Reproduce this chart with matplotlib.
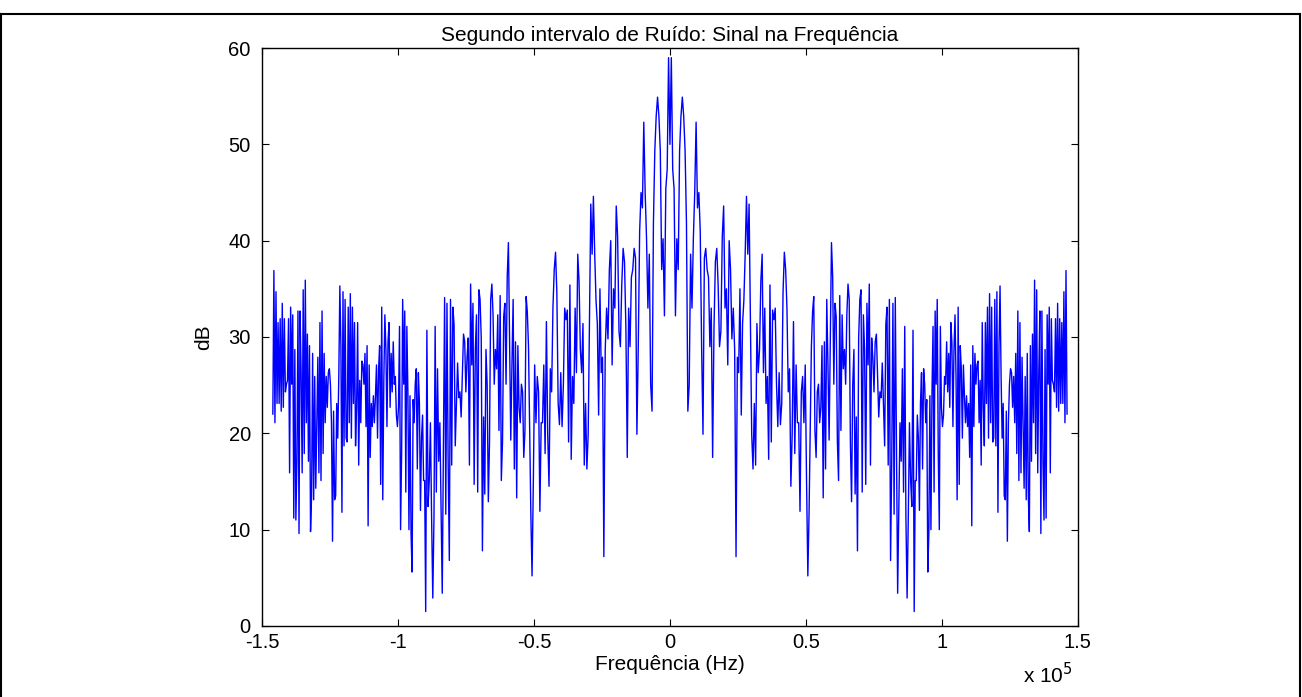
import numpy as np
import matplotlib
matplotlib.use("Agg")
import matplotlib.pyplot as plt
import matplotlib.ticker as mticker

plt.rcParams['font.family'] = ['Liberation Sans', 'DejaVu Sans']

# right half of the spectrum (dB); the spectrum is mirror symmetric.
# each piece runs up to one of the deep notches, whose frequencies are in seg_edges
seg_edges = [0, 0.243e5, 0.507e5, 0.898e5, 1.46e5]

db_seg1 = [  # 0 .. notch at 0.243e5
    50.0, 59.0, 47.4, 45.4, 32.2, 40.2, 37.0, 49.3, 52.9, 54.9,
    52.9, 49.3, 41.8, 22.3, 25.1, 38.6, 33.0, 40.2, 45.0, 52.3,
    43.4, 45.0, 41.0, 29.0, 19.9, 38.2, 39.2, 37.0, 36.2, 29.0,
    33.0, 17.5, 31.0, 37.8, 39.2, 35.4, 29.0, 30.6, 40.4, 43.6,
    33.0, 35.0, 27.1, 40.0, 37.0, 29.8, 33.0, 28.7, 7.2,
]
db_seg2 = [  # .. notch at 0.507e5
    27.9,
    26.3, 35.0, 21.9, 31.4, 33.8, 38.6, 44.6, 38.6, 43.8, 32.2,
    19.9, 16.3, 23.1, 16.7, 31.4, 26.3, 28.7, 35.8, 38.6, 26.3,
    33.0, 23.1, 25.9, 17.3, 35.4, 19.1, 32.8, 31.8, 33.0, 25.1,
    20.7, 26.3, 20.9, 23.1, 34.6, 38.8, 37.0, 33.0, 24.3, 26.7,
    14.5, 19.9, 31.6, 17.9, 27.1, 21.1, 21.1, 11.9, 24.3, 25.9,
    21.1, 27.1, 15.1, 5.2,
]
db_seg3 = [  # .. notch at 0.898e5
    11.5, 20.5, 29.0, 32.6, 34.2, 20.3, 17.5, 24.3, 25.1,
    21.1, 22.7, 29.1, 13.3, 29.5, 16.3, 33.9, 27.3, 19.3, 29.9,
    39.8, 36.3, 25.1, 33.5, 32.1, 19.1, 15.1, 34.3, 20.3, 32.3,
    26.7, 28.7, 25.1, 32.3, 35.5, 33.9, 19.1, 12.9, 25.1, 28.7,
    13.7, 21.7, 7.8, 29.9, 33.9, 34.9, 13.9, 32.3, 28.7, 14.7,
    33.5, 27.1, 35.5, 16.7, 29.9, 27.9, 24.3, 29.5, 30.3, 25.9,
    21.7, 24.3, 23.7, 27.3, 23.1, 18.7, 31.3, 33.1, 16.7, 33.9,
    6.8, 17.1, 33.5, 11.6, 34.1, 19.1, 3.4, 12.0, 21.1, 17.1,
    26.7, 13.9, 31.1, 11.2, 2.9, 11.2, 21.1, 15.1, 12.4, 30.7,
    1.5,
]
db_seg4 = [  # .. end at 1.46e5
    15.1, 15.1, 21.9, 19.5, 12.0, 23.1, 26.3, 16.3, 26.7,
    25.1, 21.1, 23.5, 5.6, 9.6, 23.9, 10.0, 24.3, 31.1, 13.9,
    32.7, 25.1, 33.9, 17.9, 10.0, 31.1, 22.7, 20.7, 21.9, 25.9,
    25.1, 29.5, 24.3, 28.3, 22.7, 31.5, 29.5, 20.7, 28.7, 32.3,
    25.5, 13.1, 33.1, 14.7, 29.1, 26.7, 19.5, 27.1, 23.9, 21.1,
    23.9, 20.7, 23.1, 17.5, 27.1, 10.4, 29.1, 20.7, 28.3, 25.1,
    27.1, 27.5, 21.1, 25.5, 16.7, 31.5, 22.7, 18.7, 31.5, 23.1,
    33.1, 19.5, 34.5, 21.1, 33.1, 19.1, 19.5, 33.9, 18.7, 34.7,
    11.8, 29.1, 35.3, 25.9, 19.5, 23.1, 13.5, 13.1, 22.3, 8.8,
    21.1, 25.1, 26.7, 26.3, 22.7, 25.9, 21.1, 28.3, 17.9, 32.7,
    15.1, 31.5, 15.9, 27.9, 21.1, 14.3, 25.9, 13.1, 28.3, 13.5,
    9.8, 29.1, 17.1, 30.3, 21.1, 35.9, 17.9, 34.9, 15.9, 26.3,
    32.7, 9.6, 32.7, 17.1, 11.0, 28.7, 11.2, 32.3, 25.1, 33.1,
    15.9, 31.9, 25.5, 25.1, 24.3, 31.9, 22.7, 33.5, 22.3, 31.9,
    23.1, 31.5, 23.1, 34.7, 21.1, 36.9, 22.0,
]

x_ticks = [-1.5e5, -1e5, -0.5e5, 0, 0.5e5, 1e5, 1.5e5]
y_ticks = [0, 10, 20, 30, 40, 50, 60]

segments = [db_seg1, db_seg2, db_seg3, db_seg4]
f_parts = [np.array([seg_edges[0]])]
for k, seg in enumerate(segments):
    n = len(seg) if k == 0 else len(seg) + 1
    f = np.linspace(seg_edges[k], seg_edges[k + 1], n)
    f_parts.append(f[1:])
f_right = np.concatenate(f_parts)
db_right = np.array(db_seg1 + db_seg2 + db_seg3 + db_seg4)

freq = np.concatenate([-f_right[:0:-1], f_right])
db = np.concatenate([db_right[:0:-1], db_right])

fig = plt.figure(figsize=(13.02, 6.97), dpi=100)
ax = fig.add_axes([0.2012, 0.1019, 0.6267, 0.8292])

ax.plot(freq, db, color='#0000ff', linewidth=1.0)

ax.set_xlim(-1.5e5, 1.5e5)
ax.set_ylim(0, 60)
ax.set_xticks(x_ticks)
ax.set_yticks(y_ticks)
ax.xaxis.set_major_formatter(mticker.FuncFormatter(lambda v, p: f"{v / 1e5:g}"))
ax.tick_params(direction='in', top=True, right=True, length=5, width=0.8,
               labelsize=14.5)
ax.tick_params(axis='x', pad=5)
ax.tick_params(axis='y', pad=8)
for s in ax.spines.values():
    s.set_linewidth(1.0)

ax.set_title("Segundo intervalo de Ruído: Sinal na Frequência", fontsize=15, pad=5)
ax.set_xlabel("Frequência (Hz)", fontsize=15, labelpad=2)
ax.set_ylabel("dB", fontsize=15, labelpad=11)
ax.text(0.993, -0.062, "x 10$^5$", transform=ax.transAxes, ha='right', va='top', fontsize=15)

# outer frame of the page
fig.add_artist(plt.Line2D([0.001, 0.001], [0, 0.98], transform=fig.transFigure, color='black', linewidth=1.5))
fig.add_artist(plt.Line2D([0.9985, 0.9985], [0, 0.98], transform=fig.transFigure, color='black', linewidth=1.5))
fig.add_artist(plt.Line2D([0.001, 0.9985], [0.98, 0.98], transform=fig.transFigure, color='black', linewidth=1.5))

fig.savefig("out.png", dpi=100)
